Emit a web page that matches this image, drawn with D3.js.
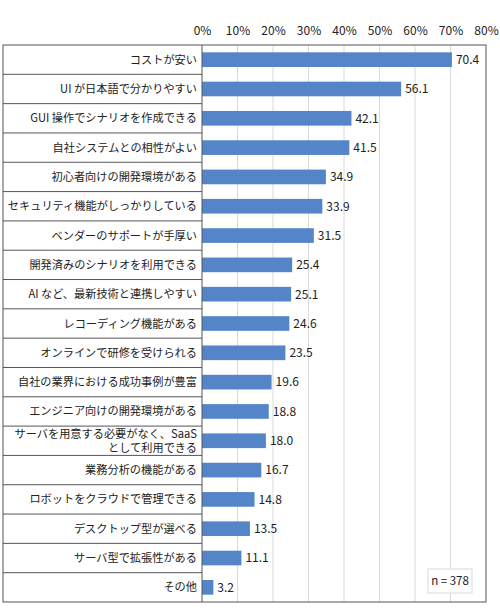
<!DOCTYPE html>
<html>
<head>
<meta charset="utf-8">
<script src="https://cdn.jsdelivr.net/npm/d3@7"></script>
<style>
  body { margin: 0; background: #fff; }
  text { font-family: "Noto Sans CJK JP", "Noto Sans", sans-serif; fill: #222; }
</style>
</head>
<body>
<svg id="chart" width="500" height="612"></svg>
<script>
// categories, top to bottom
const categories = [
  "コストが安い",
  "UI が日本語で分かりやすい",
  "GUI 操作でシナリオを作成できる",
  "自社システムとの相性がよい",
  "初心者向けの開発環境がある",
  "セキュリティ機能がしっかりしている",
  "ベンダーのサポートが手厚い",
  "開発済みのシナリオを利用できる",
  "AI など、最新技術と連携しやすい",
  "レコーディング機能がある",
  "オンラインで研修を受けられる",
  "自社の業界における成功事例が豊富",
  "エンジニア向けの開発環境がある",
  "サーバを用意する必要がなく、SaaS\nとして利用できる",
  "業務分析の機能がある",
  "ロボットをクラウドで管理できる",
  "デスクトップ型が選べる",
  "サーバ型で拡張性がある",
  "その他"
];
const values = [70.4, 56.1, 42.1, 41.5, 34.9, 33.9, 31.5, 25.4, 25.1, 24.6,
                23.5, 19.6, 18.8, 18.0, 16.7, 14.8, 13.5, 11.1, 3.2];
const ticks = [0, 10, 20, 30, 40, 50, 60, 70, 80];
const note = "n = 378";

const svg = d3.select("#chart");
const box = { left: 3, right: 486, top: 45, bottom: 602 };
const labelEdge = 202;

// scales
const x = d3.scaleLinear().domain([0, 80]).range([labelEdge, box.right]);
const y = d3.scaleBand()
  .domain(categories)
  .range([box.top, box.bottom])
  .paddingInner(0.5)
  .paddingOuter(0.25);
const rowH = (box.bottom - box.top) / categories.length;

// gridlines
svg.append("g")
  .selectAll("line")
  .data(ticks.slice(1, -1))
  .join("line")
  .attr("x1", d => x(d)).attr("x2", d => x(d))
  .attr("y1", box.top).attr("y2", box.bottom)
  .attr("stroke", "#d9d9d9").attr("stroke-width", 1);

// top axis labels
const axis = svg.append("g")
  .attr("transform", `translate(0,${box.top - 10})`)
  .call(d3.axisTop(x).tickValues(ticks).tickFormat(d => d + "%").tickSize(0).tickPadding(0));
axis.select(".domain").remove();
axis.selectAll("text")
  .style("font-family", '"Noto Sans CJK JP", sans-serif')
  .style("font-size", "12px")
  .attr("fill", "#222");

// row separators in label column
svg.append("g")
  .selectAll("line")
  .data(d3.range(1, categories.length))
  .join("line")
  .attr("x1", box.left).attr("x2", labelEdge)
  .attr("y1", i => box.top + i * rowH).attr("y2", i => box.top + i * rowH)
  .attr("stroke", "#555").attr("stroke-width", 1);

// bars
svg.append("g")
  .selectAll("rect")
  .data(values)
  .join("rect")
  .attr("x", x(0))
  .attr("y", (d, i) => y(categories[i]))
  .attr("width", d => x(d) - x(0))
  .attr("height", y.bandwidth())
  .attr("fill", "#5585c9");

// value labels
svg.append("g")
  .selectAll("text")
  .data(values)
  .join("text")
  .attr("x", d => x(d) + 4)
  .attr("y", (d, i) => y(categories[i]) + y.bandwidth() / 2)
  .attr("dy", "0.36em")
  .attr("font-size", 12)
  .text(d => d.toFixed(1));

// category labels
const lab = svg.append("g")
  .selectAll("text")
  .data(categories)
  .join("text")
  .attr("text-anchor", "end")
  .attr("font-size", 11.2)
  .attr("y", d => y(d) + y.bandwidth() / 2);
lab.each(function (d) {
  const lines = d.split("\n");
  const t = d3.select(this);
  lines.forEach((s, k) => {
    t.append("tspan")
      .attr("x", labelEdge - 5)
      .attr("dy", k === 0 ? (0.36 - (lines.length - 1) * 0.6) + "em" : "1.2em")
      .text(s);
  });
});

// outer frame
svg.append("rect")
  .attr("x", box.left).attr("y", box.top)
  .attr("width", box.right - box.left).attr("height", box.bottom - box.top)
  .attr("fill", "none").attr("stroke", "#555").attr("stroke-width", 1);
svg.append("line")
  .attr("x1", labelEdge).attr("x2", labelEdge)
  .attr("y1", box.top).attr("y2", box.bottom)
  .attr("stroke", "#555").attr("stroke-width", 1);

// sample size note
const ng = svg.append("g");
ng.append("rect")
  .attr("x", 428).attr("y", 569).attr("width", 44).attr("height", 24)
  .attr("fill", "#fff").attr("stroke", "#d9d9d9");
ng.append("text")
  .attr("x", 450).attr("y", 581).attr("dy", "0.36em")
  .attr("text-anchor", "middle").attr("font-size", 11.5)
  .text(note);
</script>
</body>
</html>
